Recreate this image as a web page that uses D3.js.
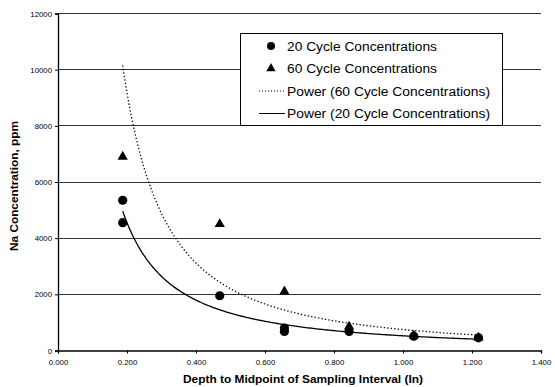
<!DOCTYPE html>
<html>
<head>
<meta charset="utf-8">
<script src="https://cdn.jsdelivr.net/npm/d3@7"></script>
<style>
  html, body { margin: 0; padding: 0; background: #fff; }
  svg { display: block; font-family: "Liberation Sans", Arial, sans-serif; }
</style>
</head>
<body>
<svg id="chart" width="555" height="387"></svg>
<script>
// Sampling depths (in) and Na concentrations (ppm)
const depth20 = [0.1875, 0.1875, 0.46875, 0.65625, 0.65625, 0.84375, 1.03125, 1.21875];
const conc20  = [5350, 4550, 1950, 800, 680, 680, 510, 450];
const depth60 = [0.1875, 0.46875, 0.65625, 0.84375, 1.03125, 1.21875];
const conc60  = [6900, 4500, 2100, 850, 530, 460];

const xTicks = [0, 0.2, 0.4, 0.6, 0.8, 1.0, 1.2, 1.4];
const yTicks = [0, 2000, 4000, 6000, 8000, 10000, 12000];

const legendLabels = [
  "20 Cycle Concentrations",
  "60 Cycle Concentrations",
  "Power (60 Cycle Concentrations)",
  "Power (20 Cycle Concentrations)"
];

const svg = d3.select("#chart");
const m = { left: 58, right: 14, top: 13.5, bottom: 36.5 };
const W = 555, H = 387;

const x = d3.scaleLinear().domain([0, 1.4]).range([m.left, W - m.right]);
const y = d3.scaleLinear().domain([0, 12000]).range([H - m.bottom, m.top]);

// Least-squares power fit y = a * x^b in log space
function powerFit(xs, ys) {
  const lx = xs.map(Math.log), ly = ys.map(Math.log);
  const mx = d3.mean(lx), my = d3.mean(ly);
  let sxy = 0, sxx = 0;
  lx.forEach((v, i) => { sxy += (v - mx) * (ly[i] - my); sxx += (v - mx) * (v - mx); });
  const b = sxy / sxx;
  const a = Math.exp(my - b * mx);
  return t => a * Math.pow(t, b);
}

// horizontal gridlines
svg.append("g")
  .selectAll("line")
  .data(yTicks.filter(d => d > 0))
  .join("line")
  .attr("x1", x(0)).attr("x2", x(1.4))
  .attr("y1", d => y(d)).attr("y2", d => y(d))
  .attr("stroke", "#333").attr("stroke-width", 1)
  .attr("shape-rendering", "crispEdges");

// axes
const yAxis = svg.append("g")
  .attr("transform", `translate(${x(0)},0)`)
  .call(d3.axisLeft(y).tickValues(yTicks).tickFormat(d3.format("d")).tickSize(3).tickPadding(3));
const xAxis = svg.append("g")
  .attr("transform", `translate(0,${y(0)})`)
  .call(d3.axisBottom(x).tickValues(xTicks).tickFormat(d3.format(".3f")).tickSize(3).tickPadding(6));

[yAxis, xAxis].forEach(g => {
  g.select(".domain").attr("stroke", "#000").attr("stroke-width", 1.3);
  g.selectAll(".tick line").attr("stroke", "#000");
  g.selectAll(".tick text").attr("font-size", 7.8).attr("fill", "#000")
    .attr("font-family", "Liberation Sans, Arial, sans-serif");
});

// trendlines
const fit60 = powerFit(depth60, conc60);
const fit20 = powerFit(depth20, conc20);
const xs60 = d3.range(0, 201).map(i => d3.min(depth60) + (d3.max(depth60) - d3.min(depth60)) * i / 200);
const xs20 = d3.range(0, 201).map(i => d3.min(depth20) + (d3.max(depth20) - d3.min(depth20)) * i / 200);
const line = f => d3.line().x(d => x(d)).y(d => y(f(d)));

svg.append("path").datum(xs60)
  .attr("d", line(fit60))
  .attr("fill", "none").attr("stroke", "#000").attr("stroke-width", 1.3)
  .attr("stroke-dasharray", "1.3,2.2");
svg.append("path").datum(xs20)
  .attr("d", line(fit20))
  .attr("fill", "none").attr("stroke", "#000").attr("stroke-width", 1.3);

// markers
const tri = d3.symbol().type(d3.symbolTriangle).size(46);
svg.append("g").selectAll("path")
  .data(depth60.map((d, i) => [d, conc60[i]]))
  .join("path")
  .attr("d", tri)
  .attr("transform", d => `translate(${x(d[0])},${y(d[1])})`)
  .attr("fill", "#000");
svg.append("g").selectAll("circle")
  .data(depth20.map((d, i) => [d, conc20[i]]))
  .join("circle")
  .attr("cx", d => x(d[0])).attr("cy", d => y(d[1]))
  .attr("r", 4.6).attr("fill", "#000");

// axis titles
svg.append("text")
  .attr("x", 303).attr("y", 383)
  .attr("text-anchor", "middle").attr("font-size", 11).attr("font-weight", "bold")
  .attr("textLength", 240).attr("lengthAdjust", "spacingAndGlyphs")
  .text("Depth to Midpoint of Sampling Interval (In)");
svg.append("text")
  .attr("transform", `translate(18,${(y(0) + y(12000)) / 2 + 4}) rotate(-90)`)
  .attr("text-anchor", "middle").attr("font-size", 11).attr("font-weight", "bold")
  .attr("textLength", 130).attr("lengthAdjust", "spacingAndGlyphs")
  .text("Na Concentration, ppm");

// legend
const lg = svg.append("g");
lg.append("rect")
  .attr("x", 240.5).attr("y", 33.5).attr("width", 262).attr("height", 92)
  .attr("fill", "#fff").attr("stroke", "#000").attr("stroke-width", 1);
const rowY = [46, 68.5, 91, 113.5];
const rowLen = [150, 150, 203, 203];
legendLabels.forEach((t, i) => {
  const yy = rowY[i];
  if (i === 0) lg.append("circle").attr("cx", 271).attr("cy", yy).attr("r", 4).attr("fill", "#000");
  if (i === 1) lg.append("path").attr("d", d3.symbol().type(d3.symbolTriangle).size(38))
    .attr("transform", `translate(271,${yy})`).attr("fill", "#000");
  if (i === 2) lg.append("line").attr("x1", 259).attr("x2", 284).attr("y1", yy).attr("y2", yy)
    .attr("stroke", "#000").attr("stroke-width", 1).attr("stroke-dasharray", "1,2");
  if (i === 3) lg.append("line").attr("x1", 259).attr("x2", 285).attr("y1", yy).attr("y2", yy)
    .attr("stroke", "#000").attr("stroke-width", 1);
  lg.append("text").attr("x", 287).attr("y", yy + 4.5)
    .attr("font-size", 12.5).attr("fill", "#000")
    .attr("textLength", rowLen[i]).attr("lengthAdjust", "spacingAndGlyphs")
    .text(t);
});
</script>
</body>
</html>
